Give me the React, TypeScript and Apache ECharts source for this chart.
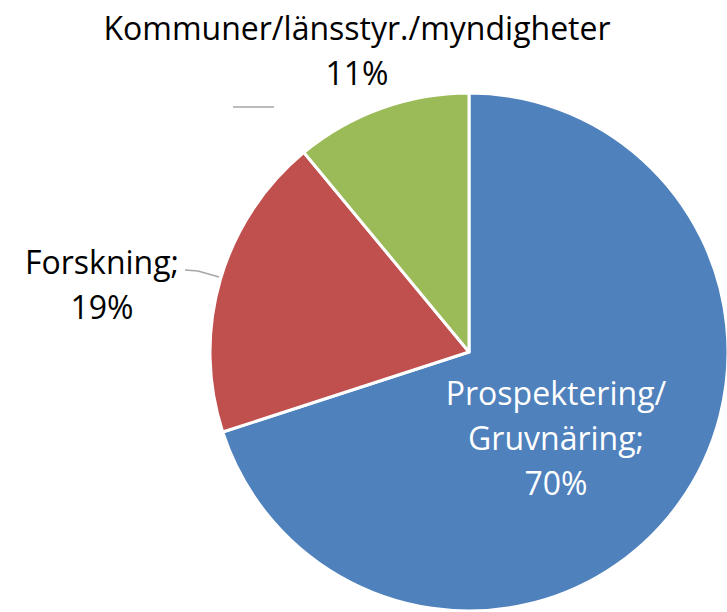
import React, { useEffect, useRef } from "react";
import * as echarts from "echarts";

const categories = ["Prospektering/\nGruvnäring", "Forskning", "Kommuner/länsstyr./myndigheter"];
const values = [70, 19, 11];
const colors = ["#4F81BD", "#C0504D", "#9BBB59"];
const separators = [";", ";", ""];

export default function App() {
  const ref = useRef<HTMLDivElement>(null);
  useEffect(() => {
    if (!ref.current) return;
    const chart = echarts.init(ref.current, undefined, { renderer: "svg" });
    const font = "Open Sans";
    chart.setOption({
      animation: false,
      backgroundColor: "#FFFFFF",
      series: [
        {
          type: "pie",
          center: [469, 352],
          radius: 259,
          startAngle: 90,
          clockwise: true,
          avoidLabelOverlap: false,
          itemStyle: { borderColor: "#FFFFFF", borderWidth: 3 },
          label: {
            show: true,
            position: "outside",
            fontFamily: font,
            fontSize: 32,
            lineHeight: 45,
            color: "#000000",
            align: "center",
            formatter: (p: any) => `${p.name}${separators[p.dataIndex]}\n${p.value}%`,
          },
          labelLine: { show: true, lineStyle: { color: "#A6A6A6", width: 1.5 } },
          labelLayout: (p: any) => {
            if (p.dataIndex === 0) {
              return { x: 556, y: 437, align: "center", verticalAlign: "middle" };
            }
            if (p.dataIndex === 1) {
              return {
                x: 102,
                y: 284,
                align: "center",
                verticalAlign: "middle",
                labelLinePoints: [[185, 270], [198, 271], [219, 277]],
              };
            }
            return {
              x: 357,
              y: 50,
              align: "center",
              verticalAlign: "middle",
              labelLinePoints: [[233, 107], [274, 107], [274, 107]],
            };
          },
          data: categories.map((c, i) => ({
            name: c,
            value: values[i],
            itemStyle: { color: colors[i] },
            label: i === 0 ? { position: "inside", color: "#FFFFFF" } : undefined,
            labelLine: i === 0 ? { show: false } : undefined,
          })),
        },
      ],
    });
    return () => chart.dispose();
  }, []);
  return (
    <div
      ref={ref}
      style={{ position: "absolute", left: 0, top: 0, width: 727, height: 612 }}
    />
  );
}
